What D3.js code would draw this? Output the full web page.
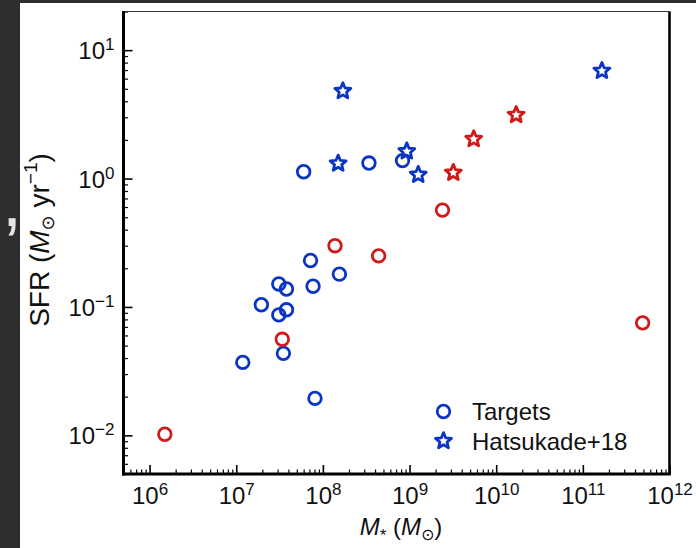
<!DOCTYPE html>
<html>
<head>
<meta charset="utf-8">
<script src="https://cdn.jsdelivr.net/npm/d3@7"></script>
<style>
  html, body { margin: 0; padding: 0; background: #2e2e2e; }
  svg { display: block; }
  text { font-family: "Liberation Sans", Arial, "DejaVu Sans", sans-serif; }
</style>
</head>
<body>
<svg id="chart" width="696" height="548"></svg>
<script>
// ---- Data ----
const targetsBlueMass = [6.0e7, 3.4e8, 8.3e8, 7.2e7, 1.55e8, 3.1e7, 3.8e7, 7.7e7, 1.95e7, 3.8e7, 3.1e7, 3.5e7, 1.19e7, 8.1e7];
const targetsBlueSFR  = [1.13, 1.32, 1.38, 0.23, 0.18, 0.151, 0.138, 0.145, 0.104, 0.095, 0.0867, 0.0435, 0.037, 0.0194];
const targetsRedMass  = [1.38e8, 4.4e8, 3.4e7, 2.4e9, 4.9e11, 1.5e6];
const targetsRedSFR   = [0.30, 0.25, 0.056, 0.568, 0.0752, 0.0102];
const hatsBlueMass    = [1.7e8, 1.5e8, 9.3e8, 1.26e9, 1.66e11];
const hatsBlueSFR     = [4.8, 1.31, 1.63, 1.07, 6.9];
const hatsRedMass     = [3.2e9, 5.5e9, 1.7e10];
const hatsRedSFR      = [1.11, 2.03, 3.13];
const xTickExps = [6, 7, 8, 9, 10, 11, 12];
const yTickExps = [1, 0, -1, -2];
const legendLabels = ["Targets", "Hatsukade+18"];

const BLUE = "#0a34c4";
const RED = "#d01a1a";

const svg = d3.select("#chart");
const W = 696, H = 548;
const M = {left: 123.5, right: 669.5, top: 11.5, bottom: 474};

// backgrounds
svg.append("rect").attr("width", W).attr("height", H).attr("fill", "#2e2e2e");
svg.append("rect").attr("x", 20).attr("y", 3).attr("width", W - 20).attr("height", H - 3).attr("fill", "#ffffff");
svg.append("text").attr("x", 2).attr("y", 226).attr("font-size", 72).attr("fill", "#e6e6e6").text(",");

const x = d3.scaleLog().domain([5e5, 1e12]).range([M.left, M.right]);
const y = d3.scaleLog().domain([5e-3, 20]).range([M.bottom, M.top]);

// minor tick values
const xMinor = [], yMinor = [];
for (let e = 5; e <= 11; e++) for (let k = 2; k <= 9; k++) { const v = k * Math.pow(10, e); if (v >= 5e5 && v <= 1e12) xMinor.push(v); }
for (let e = -3; e <= 1; e++) for (let k = 2; k <= 9; k++) { const v = k * Math.pow(10, e); if (v >= 5e-3 && v <= 20) yMinor.push(v); }

function styleAxis(g, w) {
  g.select(".domain").remove();
  g.selectAll(".tick line").attr("stroke", "#000").attr("stroke-width", w);
  g.selectAll(".tick text").remove();
}

// x axis (inward ticks)
svg.append("g").attr("transform", `translate(0,${M.bottom})`)
  .call(d3.axisBottom(x).tickValues(xMinor).tickSize(-4.5).tickFormat(""))
  .call(g => styleAxis(g, 1.2));
const xg = svg.append("g").attr("transform", `translate(0,${M.bottom})`)
  .call(d3.axisBottom(x).tickValues(xTickExps.map(e => Math.pow(10, e))).tickSize(-9).tickFormat(""))
  .call(g => styleAxis(g, 1.6));
xg.selectAll(".tick").each(function(d) {
  const e = Math.round(Math.log10(d));
  const t = d3.select(this).append("text").attr("y", 30).attr("text-anchor", "middle")
    .attr("font-size", 24).attr("fill", "#111");
  t.append("tspan").text("10");
  t.append("tspan").attr("font-size", 17).attr("dy", -9).text(String(e));
});

// y axis
svg.append("g").attr("transform", `translate(${M.left},0)`)
  .call(d3.axisLeft(y).tickValues(yMinor).tickSize(-4.5).tickFormat(""))
  .call(g => styleAxis(g, 1.2));
const yg = svg.append("g").attr("transform", `translate(${M.left},0)`)
  .call(d3.axisLeft(y).tickValues(yTickExps.map(e => Math.pow(10, e))).tickSize(-9).tickFormat(""))
  .call(g => styleAxis(g, 1.6));
yg.selectAll(".tick").each(function(d) {
  const e = Math.round(Math.log10(d));
  const t = d3.select(this).append("text").attr("x", -9).attr("y", 8.5).attr("text-anchor", "end")
    .attr("font-size", 24).attr("fill", "#111");
  t.append("tspan").text("10");
  t.append("tspan").attr("font-size", 17).attr("dy", -9).text(e < 0 ? "\u2212" + Math.abs(e) : String(e));
});

// frame
svg.append("line").attr("x1", M.left).attr("x2", M.right).attr("y1", M.top).attr("y2", M.top).attr("stroke", "#333").attr("stroke-width", 1.2);
svg.append("line").attr("x1", M.right).attr("x2", M.right).attr("y1", M.top).attr("y2", M.bottom).attr("stroke", "#000").attr("stroke-width", 2.6);
svg.append("line").attr("x1", M.left).attr("x2", M.left).attr("y1", M.top - 0.6).attr("y2", M.bottom + 1.5).attr("stroke", "#000").attr("stroke-width", 3);
svg.append("line").attr("x1", M.left - 1.5).attr("x2", M.right + 1.3).attr("y1", M.bottom).attr("y2", M.bottom).attr("stroke", "#000").attr("stroke-width", 3);

// star path
function starPath(R, r) {
  const pts = [];
  for (let i = 0; i < 10; i++) {
    const a = -Math.PI / 2 + i * Math.PI / 5;
    const rad = i % 2 === 0 ? R : r;
    pts.push([rad * Math.cos(a), rad * Math.sin(a)]);
  }
  return "M" + pts.map(p => p[0].toFixed(2) + "," + p[1].toFixed(2)).join("L") + "Z";
}
const STAR = starPath(8.4, 3.8);

function circles(xs, ys, color) {
  svg.append("g").selectAll("circle").data(xs.map((v, i) => [v, ys[i]])).join("circle")
    .attr("cx", d => x(d[0])).attr("cy", d => y(d[1])).attr("r", 6.3)
    .attr("fill", "none").attr("stroke", color).attr("stroke-width", 2.8);
}
function stars(xs, ys, color) {
  svg.append("g").selectAll("path").data(xs.map((v, i) => [v, ys[i]])).join("path")
    .attr("transform", d => `translate(${x(d[0])},${y(d[1])})`).attr("d", STAR)
    .attr("fill", "none").attr("stroke", color).attr("stroke-width", 2.8).attr("stroke-linejoin", "round");
}
stars(hatsBlueMass, hatsBlueSFR, BLUE);
stars(hatsRedMass, hatsRedSFR, RED);
circles(targetsBlueMass, targetsBlueSFR, BLUE);
circles(targetsRedMass, targetsRedSFR, RED);

// legend
const lg = svg.append("g");
lg.append("circle").attr("cx", 443.5).attr("cy", 411.5).attr("r", 6.3).attr("fill", "none").attr("stroke", BLUE).attr("stroke-width", 2.8);
lg.append("path").attr("transform", "translate(443.5,441)").attr("d", STAR).attr("fill", "none").attr("stroke", BLUE).attr("stroke-width", 2.8).attr("stroke-linejoin", "round");
lg.append("text").attr("x", 472).attr("y", 420).attr("font-size", 24).attr("fill", "#111").text(legendLabels[0]);
lg.append("text").attr("x", 472).attr("y", 449.5).attr("font-size", 24).attr("fill", "#111").text(legendLabels[1]);

// axis labels
const xl = svg.append("text").attr("x", 401).attr("y", 535).attr("text-anchor", "middle").attr("font-size", 24).attr("fill", "#111");
xl.append("tspan").attr("font-style", "italic").text("M");
xl.append("tspan").attr("font-size", 17).attr("dy", 6).text("*");
xl.append("tspan").attr("dy", -6).text(" (");
xl.append("tspan").attr("font-style", "italic").text("M");
xl.append("tspan").attr("font-size", 16).attr("dy", 5).attr("font-family", "DejaVu Sans").text("\u2299");
xl.append("tspan").attr("dy", -5).text(")");

const yl = svg.append("text").attr("transform", "translate(49,240) rotate(-90)").attr("text-anchor", "middle").attr("font-size", 28).attr("fill", "#111");
yl.append("tspan").text("SFR (");
yl.append("tspan").attr("font-style", "italic").text("M");
yl.append("tspan").attr("font-size", 18).attr("dy", 5).attr("font-family", "DejaVu Sans").text("\u2299");
yl.append("tspan").attr("dy", -5).text(" yr");
yl.append("tspan").attr("font-size", 19).attr("dy", -12).text("\u22121");
yl.append("tspan").attr("dy", 12).text(")");
</script>
</body>
</html>
